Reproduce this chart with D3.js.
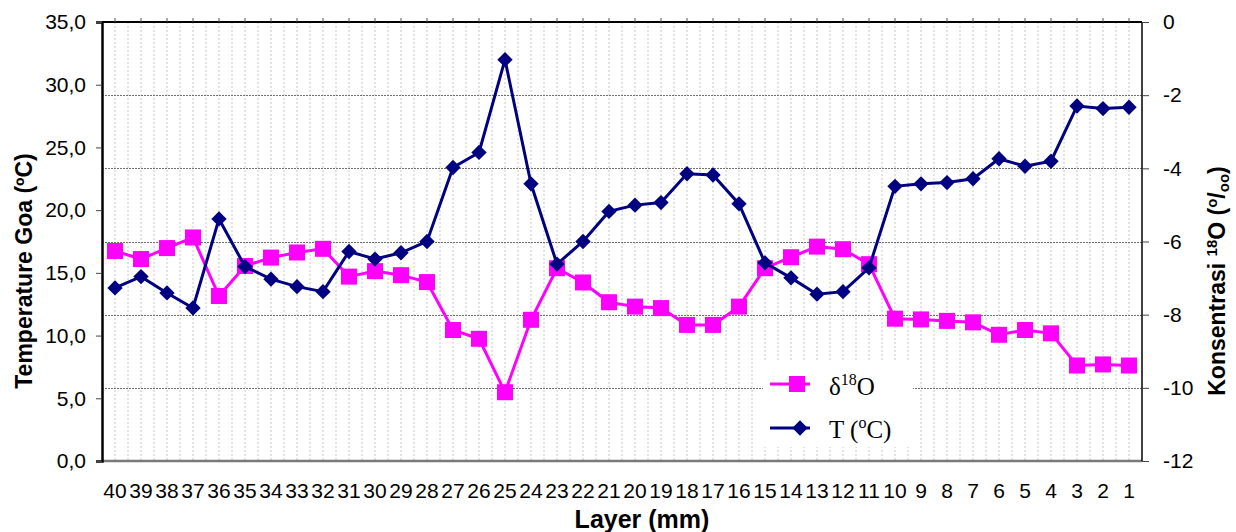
<!DOCTYPE html>
<html><head><meta charset="utf-8">
<script src="https://cdn.jsdelivr.net/npm/d3@7"></script>
<style>body{margin:0;background:#fff}svg{display:block}</style>
</head><body><svg id="c" width="1236" height="532"></svg>
<script>
const layers = ["40","39","38","37","36","35","34","33","32","31","30","29","28","27","26","25","24","23","22","21","20","19","18","17","16","15","14","13","12","11","10","9","8","7","6","5","4","3","2","1"];
const tempValues = [13.8,14.7,13.4,12.2,19.3,15.5,14.5,13.9,13.5,16.7,16.1,16.6,17.5,23.4,24.6,32.0,22.1,15.7,17.5,19.9,20.4,20.6,22.9,22.8,20.5,15.8,14.6,13.3,13.5,15.4,21.9,22.1,22.2,22.5,24.1,23.5,23.9,28.3,28.1,28.2];
const d18OValues = [-6.26,-6.48,-6.18,-5.89,-7.49,-6.67,-6.44,-6.30,-6.20,-6.96,-6.81,-6.92,-7.11,-8.42,-8.66,-10.12,-8.14,-6.73,-7.12,-7.66,-7.78,-7.82,-8.28,-8.28,-7.78,-6.73,-6.43,-6.14,-6.21,-6.62,-8.11,-8.13,-8.17,-8.21,-8.55,-8.42,-8.51,-9.39,-9.36,-9.39];
const leftTicks = [0,5,10,15,20,25,30,35];
const rightTicks = [0,-2,-4,-6,-8,-10,-12];
const gridTicks = [-2,-4,-6,-8,-10];

const svg = d3.select("#c");
const L = 102, R = 1142, T = 22, B = 461;
const x = d3.scaleBand().domain(layers).range([L, R]);
const bw = x.bandwidth();
const cx = d => x(d) + bw / 2;
const yL = d3.scaleLinear().domain([0, 35]).range([B, T]);
const yR = d3.scaleLinear().domain([-12, 0]).range([B, T]);
const fontS = "'Liberation Sans', Arial, sans-serif";
const fontSerif = "'Liberation Serif', 'Times New Roman', serif";

// vertical dotted gridlines at band edges and centers
const vgrid = svg.append("g");
layers.forEach((d, i) => {
  [x(d), cx(d)].forEach(px => {
    if (px <= L + 0.5) return;
    vgrid.append("line").attr("x1", px).attr("x2", px).attr("y1", T).attr("y2", B)
      .attr("stroke", "#c8c8c8").attr("stroke-width", 1).attr("stroke-dasharray", "2,2");
  });
});
// horizontal gridlines from right axis
svg.append("g").selectAll("line").data(gridTicks).join("line")
  .attr("x1", L).attr("x2", R).attr("y1", d => Math.round(yR(d)) + 0.5).attr("y2", d => Math.round(yR(d)) + 0.5)
  .attr("stroke", "#707070").attr("stroke-width", 1.2).attr("stroke-dasharray", "2,1");

// frame
svg.append("line").attr("x1", L).attr("x2", R).attr("y1", B).attr("y2", B).attr("stroke", "#7a7a7a").attr("stroke-width", 2.5);
svg.append("line").attr("x1", L).attr("x2", R).attr("y1", T).attr("y2", T).attr("stroke", "#000").attr("stroke-width", 2);
svg.append("line").attr("x1", R).attr("x2", R).attr("y1", T).attr("y2", B).attr("stroke", "#000").attr("stroke-width", 1.5);

// top ticks at category centers
svg.append("g").selectAll("line").data(layers).join("line")
  .attr("x1", d => cx(d)).attr("x2", d => cx(d)).attr("y1", T - 4).attr("y2", T)
  .attr("stroke", "#555").attr("stroke-width", 1);

// left axis
const axL = svg.append("g").attr("transform", `translate(${L},0)`)
  .call(d3.axisLeft(yL).tickValues(leftTicks).tickSize(6).tickPadding(10)
    .tickFormat(d => d3.format(".1f")(d).replace(".", ",")));
axL.select(".domain").attr("stroke", "#000").attr("stroke-width", 2.5);
axL.selectAll(".tick line").attr("stroke", "#444");
axL.selectAll("text").attr("font-family", fontS).attr("font-size", 21).attr("fill", "#000");

// right axis
const axR = svg.append("g").attr("transform", `translate(${R},0)`)
  .call(d3.axisRight(yR).tickValues(rightTicks).tickSize(7).tickPadding(14).tickFormat(d3.format("d")));
axR.select(".domain").remove();
axR.selectAll(".tick line").attr("stroke", "#444");
axR.selectAll("text").attr("font-family", fontS).attr("font-size", 21).attr("fill", "#000")
  .text(d => d === 0 ? "0" : "-" + Math.abs(d));

// x labels
svg.append("g").selectAll("text").data(layers).join("text")
  .attr("x", d => cx(d)).attr("y", 498).attr("text-anchor", "middle")
  .attr("font-family", fontS).attr("font-size", 21).attr("fill", "#000").text(d => d);

// titles
svg.append("text").attr("x", 642).attr("y", 528).attr("text-anchor", "middle")
  .attr("font-family", fontS).attr("font-size", 25).attr("font-weight", "bold").text("Layer (mm)");
svg.append("text").attr("transform", "translate(32,271) rotate(-90)").attr("text-anchor", "middle")
  .attr("font-family", fontS).attr("font-size", 23).attr("font-weight", "bold").text("Temperature Goa (ºC)");
const rt = svg.append("text").attr("transform", "translate(1225,281) rotate(-90)").attr("text-anchor", "middle")
  .attr("font-family", fontS).attr("font-size", 23).attr("font-weight", "bold");
rt.append("tspan").text("Konsentrasi ");
rt.append("tspan").attr("font-size", 15).attr("dy", -8).text("18");
rt.append("tspan").attr("dy", 8).text("O (");
rt.append("tspan").attr("font-size", 15).attr("dy", -8).text("o");
rt.append("tspan").attr("dy", 8).text("/");
rt.append("tspan").attr("font-size", 15).attr("dy", 4).text("oo");
rt.append("tspan").attr("dy", -4).text(")");

// series
const lineT = d3.line().x((d, i) => cx(layers[i])).y(d => yL(d));
const lineD = d3.line().x((d, i) => cx(layers[i])).y(d => yR(d));
const magenta = "#ff00ff", navy = "#000080";
svg.append("path").datum(d18OValues).attr("d", lineD).attr("fill", "none").attr("stroke", magenta).attr("stroke-width", 3);
svg.append("g").selectAll("rect").data(d18OValues).join("rect")
  .attr("x", (d, i) => cx(layers[i]) - 8).attr("y", d => yR(d) - 8).attr("width", 16).attr("height", 16).attr("fill", magenta);
svg.append("path").datum(tempValues).attr("d", lineT).attr("fill", "none").attr("stroke", navy).attr("stroke-width", 3);
const dia = d3.symbol().type(d3.symbolDiamond2).size(150);
svg.append("g").selectAll("path").data(tempValues).join("path")
  .attr("transform", (d, i) => `translate(${cx(layers[i])},${yL(d)})`).attr("d", dia).attr("fill", navy);

// legend
const lg = svg.append("g");
lg.append("rect").attr("x", 763).attr("y", 362).attr("width", 150).attr("height", 85).attr("fill", "#fff");
lg.append("line").attr("x1", 770).attr("x2", 810).attr("y1", 384).attr("y2", 384).attr("stroke", magenta).attr("stroke-width", 3);
lg.append("rect").attr("x", 789).attr("y", 376).attr("width", 16).attr("height", 16).attr("fill", magenta);
const t1 = lg.append("text").attr("x", 829).attr("y", 395).attr("font-family", fontSerif).attr("font-size", 25);
t1.append("tspan").text("δ");
t1.append("tspan").attr("font-size", 16).attr("dy", -10).text("18");
t1.append("tspan").attr("dy", 10).text("O");
lg.append("line").attr("x1", 770).attr("x2", 810).attr("y1", 428).attr("y2", 428).attr("stroke", navy).attr("stroke-width", 3);
lg.append("path").attr("transform", "translate(800,428)").attr("d", dia).attr("fill", navy);
const t2 = lg.append("text").attr("x", 829).attr("y", 438).attr("font-family", fontSerif).attr("font-size", 25);
t2.append("tspan").text("T (");
t2.append("tspan").attr("font-size", 16).attr("dy", -10).text("o");
t2.append("tspan").attr("dy", 10).text("C)");
</script></body></html>
